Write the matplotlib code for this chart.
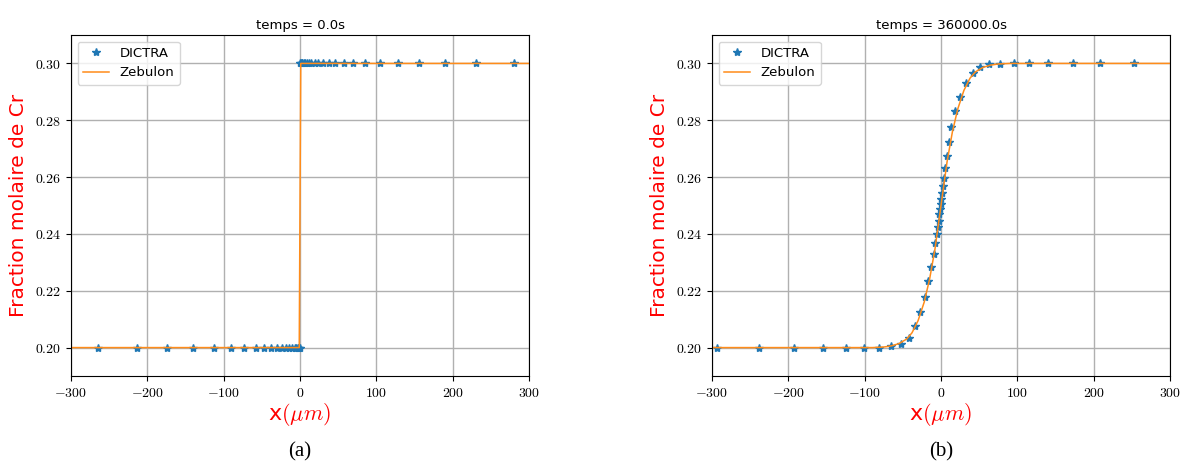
import matplotlib
matplotlib.use("Agg")
import matplotlib.pyplot as plt
from matplotlib.ticker import FuncFormatter

plt.rcParams['mathtext.fontset'] = 'cm'
plt.rcParams['font.family'] = ['DejaVu Sans']

# (a) temps = 0.0s
dictra_x0 = [-265, -214, -174, -140, -113, -91, -73, -58, -47, -38, -30, -24, -18,
             -14, -10, -7, -5, -3, -2, -1, 0,
             0.5, 1, 2, 3, 5, 7, 9, 12, 15, 19, 24, 30, 38, 46.5, 57.5, 70, 85,
             105, 128, 156, 190, 230.5, 280]
dictra_y0 = [0.2] * 21 + [0.3] * 23
zeb_x0 = [-300, -1, 1, 300]
zeb_y0 = [0.2, 0.2, 0.3, 0.3]

# (b) temps = 360000.0s
dictra_x1 = [-293.7, -238, -192, -154.7, -124.6, -100.6, -81, -65.4, -52.7, -42.3,
             -34, -27, -20.5, -17, -12.6, -9.6, -7.4, -5.7, -4.4, -3, -2.2, -1.3,
             -0.4, 0.4, 1.3, 2.6, 4.4, 5.7, 7.8, 10.5, 13.5, 17.9, 24.4, 32.2, 41.4,
             51.4, 63.2, 77.6, 95, 115.5, 140.7, 172.5, 208, 253]
dictra_y1 = [0.2, 0.2, 0.2, 0.2, 0.2, 0.2, 0.2, 0.2005, 0.2014, 0.2035,
             0.2075, 0.2125, 0.2178, 0.2234, 0.2283, 0.2328, 0.2368, 0.2398, 0.2426,
             0.2447, 0.2471, 0.2488, 0.2506, 0.2523, 0.2543, 0.2567, 0.2597, 0.2632,
             0.2674, 0.2725, 0.2775, 0.2831, 0.2883, 0.2930, 0.2967, 0.2988, 0.2998,
             0.2998, 0.3, 0.3, 0.3, 0.3, 0.3, 0.3]
zeb_x1 = [-300, -90, -75, -65, -55, -45, -38, -30, -22, -15, -8, 0, 8, 15, 22,
          30, 38, 45, 55, 65, 75, 90, 300]
zeb_y1 = [0.2, 0.2, 0.2002, 0.2006, 0.2014, 0.2030, 0.2052, 0.2095, 0.2160, 0.2240,
          0.2345, 0.2500, 0.2655, 0.2760, 0.2840, 0.2905, 0.2948, 0.2970, 0.2986,
          0.2994, 0.2998, 0.3, 0.3]

panels = [("temps = 0.0s", dictra_x0, dictra_y0, zeb_x0, zeb_y0, "(a)"),
          ("temps = 360000.0s", dictra_x1, dictra_y1, zeb_x1, zeb_y1, "(b)")]

fig = plt.figure(figsize=(11.81, 4.65), dpi=100)
W, H = 1181, 465
lefts = [71, 712]
for (title, dx, dy, zx, zy, cap), left in zip(panels, lefts):
    ax = fig.add_axes([left / W, 1 - 376 / H, 458 / W, 341 / H])
    ax.plot(dx, dy, '*', color='#1f77b4', markersize=6, label='DICTRA')
    ax.plot(zx, zy, '-', color='#ff8c1a', linewidth=1.1, label='Zebulon')
    ax.set_xlim(-300, 300)
    ax.set_ylim(0.19, 0.31)
    ax.set_xticks([-300, -200, -100, 0, 100, 200, 300])
    ax.set_yticks([0.20, 0.22, 0.24, 0.26, 0.28, 0.30])
    ax.xaxis.set_major_formatter(FuncFormatter(lambda v, p: r'$%d$' % v))
    ax.yaxis.set_major_formatter(FuncFormatter(lambda v, p: r'$%.2f$' % v))
    ax.tick_params(labelsize=10)
    ax.grid(True, color='#b0b0b0', linewidth=1)
    ax.set_title(title, fontsize=9.5, pad=4)
    ax.set_xlabel(r'x$(\mu m)$', color='red', fontsize=16, labelpad=1)
    ax.set_ylabel('Fraction molaire de Cr', color='red', fontsize=14.5, labelpad=5)
    ax.legend(loc='upper left', fontsize=9.5)
    fig.text((left + 229) / W, 1 - 452 / H, cap, ha='center', va='center',
             fontsize=15, family='Liberation Serif')

plt.savefig("out.png", dpi=100)
